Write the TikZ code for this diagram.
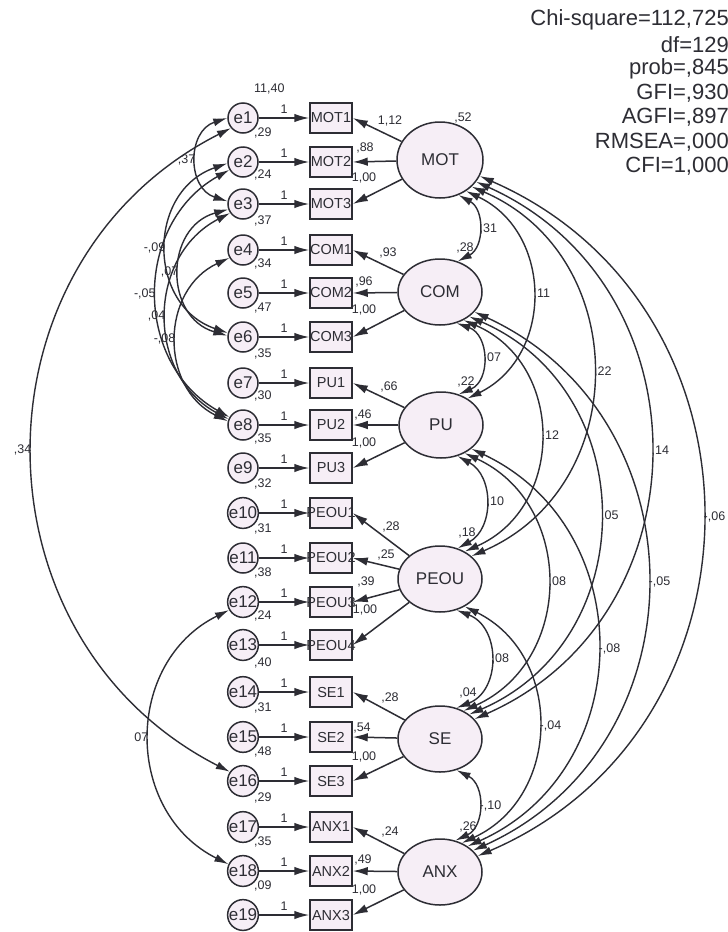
\documentclass[tikz,border=0pt]{standalone}
\usepackage{fontspec}
\setmainfont{Liberation Sans}
\usetikzlibrary{arrows.meta,calc,shapes.geometric}
\definecolor{ink}{RGB}{45,45,52}
\definecolor{pale}{RGB}{246,238,246}
\tikzset{
  errnode/.style={circle, draw=ink, fill=pale, line width=1.5pt, minimum size=30pt, inner sep=0pt, font=\fontsize{17}{17}\selectfont, text=ink},
  obsnode/.style={rectangle, draw=ink, fill=pale, line width=1.5pt, minimum width=42pt, minimum height=30pt, inner sep=0pt, font=\fontsize{14.5}{14.5}\selectfont, text=ink},
  latnode/.style={ellipse, draw=ink, fill=pale, line width=1.5pt, minimum width=84pt, minimum height=66pt, inner sep=0pt, font=\fontsize{17}{17}\selectfont, text=ink},
  arr/.style={draw=ink, line width=1.5pt, -{Latex[length=15pt,width=8.5pt]}},
  cov/.style={draw=ink, line width=1.4pt, {Latex[length=14pt,width=8pt]}-{Latex[length=14pt,width=8pt]}},
  lbl/.style={font=\fontsize{12.5}{12.5}\selectfont, text=ink, inner sep=1pt},
  fitstat/.style={font=\fontsize{22}{22}\selectfont, text=ink, anchor=east, inner sep=0pt},
}
\newcommand{\covarc}[5]{%
  \draw[cov] let \p1=(#1), \p2=(#2),
    \n1={atan2(\y2-\y1,\x2-\x1)},
    \n2={2*atan(2*(#3pt-0.5*\x1-0.5*\x2)/veclen(\x2-\x1,\y2-\y1))},
    \n3={0.8514/(cos(\n2/2)*cos(\n2/2))},
    \n4={\n1+\n2}, \n5={\n1+180-\n2}
  in (\p1) to[out=\n4, in=\n5, looseness=\n3] node[lbl, #4] {#5} (\p2);
}
\begin{document}
\begin{tikzpicture}[x=1pt,y=1pt]
\useasboundingbox (0,0) rectangle (728,-932);
\fill[white] (0,0) rectangle (728,-932);

% fit statistics
\node[fitstat] (fs1) at (729,-20) {Chi-square=112,725};
\node[fitstat] (fs2) at (729,-44.4) {df=129};
\node[fitstat] (fs3) at (729,-68.8) {prob=,845};
\node[fitstat] (fs4) at (729,-93.2) {GFI=,930};
\node[fitstat] (fs5) at (729,-117.6) {AGFI=,897};
\node[fitstat] (fs6) at (729,-142) {RMSEA=,000};
\node[fitstat] (fs7) at (729,-166.4) {CFI=1,000};

% latent variables
\node[latnode, minimum width=86pt, minimum height=76pt] (MOT) at (440,-160) {MOT};
\node[latnode] (COM) at (440,-292) {COM};
\node[latnode] (PU) at (441,-425) {PU};
\node[latnode] (PEOU) at (440,-579) {PEOU};
\node[latnode] (SE) at (440,-739) {SE};
\node[latnode] (ANX) at (440,-872) {ANX};

% latent variances
\node[lbl] (vMOT) at (463,-118) {,52};
\node[lbl] (vCOM) at (465,-248) {,28};
\node[lbl] (vPU) at (466,-382) {,22};
\node[lbl] (vPEOU) at (467,-533) {,18};
\node[lbl] (vSE) at (468,-693) {,04};
\node[lbl] (vANX) at (468,-827) {,26};

% errors and indicators
\foreach \i/\y/\t/\v in {1/118/MOT1/{11,40}, 2/162/MOT2/{,29}, 3/204/MOT3/{,24},
  4/250/COM1/{,37}, 5/293/COM2/{,34}, 6/337/COM3/{,47},
  7/383/PU1/{,35}, 8/425/PU2/{,30}, 9/468/PU3/{,35},
  10/513/PEOU1/{,32}, 11/558/PEOU2/{,31}, 12/602/PEOU3/{,38}, 13/645/PEOU4/{,24},
  14/692/SE1/{,40}, 15/737/SE2/{,31}, 16/781/SE3/{,48},
  17/827/ANX1/{,29}, 18/871/ANX2/{,35}, 19/915/ANX3/{,09}}{
  \node[errnode] (e\i) at (243,-\y) {e\i};
  \node[obsnode] (o\i) at (331,-\y) {\makebox[0pt]{\t}};
  \node[lbl, anchor=west] (ev\i) at (253,-\y+29) {\v};
  \draw[arr] (e\i) -- node[lbl, above=3pt] (one\i) {1} (o\i);
}

% loadings labels
\foreach \i/\x/\y/\t in {1/390/121/{1,12}, 2/365/148/{,88}, 3/364/178/{1,00},
  4/388/253/{,93}, 5/364/282/{,96}, 6/364/310/{1,00},
  7/389/387/{,66}, 8/363/415/{,46}, 9/364/443/{1,00},
  10/391/527/{,28}, 11/386/555/{,25}, 12/366/582/{,39}, 13/365/610/{1,00},
  14/390/698/{,28}, 15/362/728/{,54}, 16/364/757/{1,00},
  17/390/832/{,24}, 18/363/860/{,49}, 19/364/890/{1,00}}{
  \node[lbl] (ld\i) at (\x,-\y) {\t};
}

% loadings
\foreach \i in {1,2,3} {\draw[arr] (MOT) -- (o\i.east);}
\foreach \i in {4,5,6} {\draw[arr] (COM) -- (o\i.east);}
\foreach \i in {7,8,9} {\draw[arr] (PU) -- (o\i.east);}
\foreach \i in {10,11,12,13} {\draw[arr] (PEOU) -- (o\i.east);}
\foreach \i in {14,15,16} {\draw[arr] (SE) -- (o\i.east);}
\foreach \i in {17,18,19} {\draw[arr] (ANX) -- (o\i.east);}

% latent covariances
\covarc{MOT.-62}{COM.60}{478}{right}{,31}
\covarc{COM.-62}{PU.60}{482}{right}{,07}
\covarc{PU.-62}{PEOU.60}{485}{right}{,10}
\covarc{PEOU.-62}{SE.62}{490}{right}{,08}
\covarc{SE.-62}{ANX.64}{478}{right}{-,10}
\covarc{MOT.-50}{PU.45}{532}{right}{,11}
\covarc{COM.-50}{PEOU.48}{540}{right}{,12}
\covarc{PU.-50}{SE.50}{547}{right}{,08}
\covarc{PEOU.-48}{ANX.53}{538}{right}{-,04}
\covarc{MOT.-40}{PEOU.36}{593}{right}{,22}
\covarc{COM.-40}{SE.40}{600}{right}{,05}
\covarc{PU.-38}{ANX.43}{597}{right}{-,08}
\covarc{MOT.-31}{SE.30}{650}{right}{,14}
\covarc{COM.-30}{ANX.33}{647}{right}{-,05}
\covarc{MOT.-22}{ANX.23}{702}{right}{-,06}

% error covariances
\covarc{e1.180}{e3.170}{197}{left}{,37}
\covarc{e1.-140}{e16.145}{33}{left}{,34}
\covarc{e2.185}{e6.165}{167}{left}{-,09}
\covarc{e2.-150}{e8.150}{157}{left}{-,05}
\covarc{e3.-160}{e6.175}{180}{left}{,07}
\covarc{e3.-145}{e8.158}{167}{left}{,04}
\covarc{e4.-150}{e8.166}{177}{left}{-,08}
\covarc{e12.-150}{e18.155}{150}{left}{07}
\end{tikzpicture}
\end{document}
